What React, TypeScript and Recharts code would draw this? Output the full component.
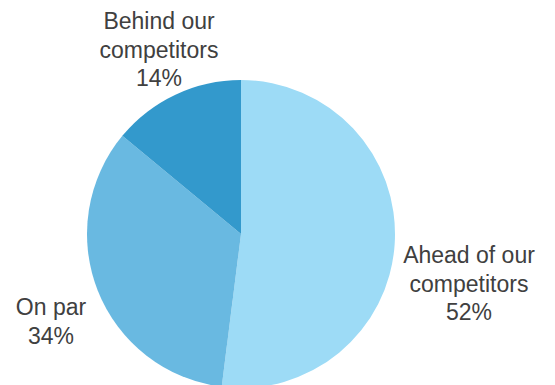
import { Cell, Pie, PieChart } from "recharts";

const categories = ["Ahead of our competitors", "On par", "Behind our competitors"];
const shares = [52, 34, 14];
const labelLines = [
  ["Ahead of our", "competitors", "52%"],
  ["On par", "34%"],
  ["Behind our", "competitors", "14%"],
];

const COLORS = ["#9DDBF6", "#69B9E1", "#3399CC"];
// where each label block sits, relative to the pie centre
const LABEL_OFFSETS = [
  { dx: 228, dy: 29 },
  { dx: -190, dy: 81 },
  { dx: -82, dy: -205 },
];

const data = categories.map((name, i) => ({ name, value: shares[i] }));

function renderLabel(props: any) {
  const { cx, cy, index } = props;
  const off = LABEL_OFFSETS[index];
  return (
    <text
      x={cx + off.dx}
      y={cy + off.dy}
      textAnchor="middle"
      fill="#404040"
      fontSize={23}
      fontFamily="'Liberation Sans', Arial, sans-serif"
    >
      {labelLines[index].map((line, j) => (
        <tspan key={j} x={cx + off.dx} dy={j === 0 ? 0 : 28.5}>
          {line}
        </tspan>
      ))}
    </text>
  );
}

export default function App() {
  return (
    <div style={{ position: "absolute", left: 0, top: 0, background: "#fff" }}>
      <PieChart width={555} height={385} margin={{ top: 0, right: 0, bottom: 0, left: 0 }}>
        <Pie
          data={data}
          dataKey="value"
          nameKey="name"
          cx={241}
          cy={234}
          outerRadius={154}
          startAngle={90}
          endAngle={-270}
          stroke="none"
          label={renderLabel}
          labelLine={false}
          isAnimationActive={false}
        >
          {data.map((_, i) => (
            <Cell key={i} fill={COLORS[i]} />
          ))}
        </Pie>
      </PieChart>
    </div>
  );
}
